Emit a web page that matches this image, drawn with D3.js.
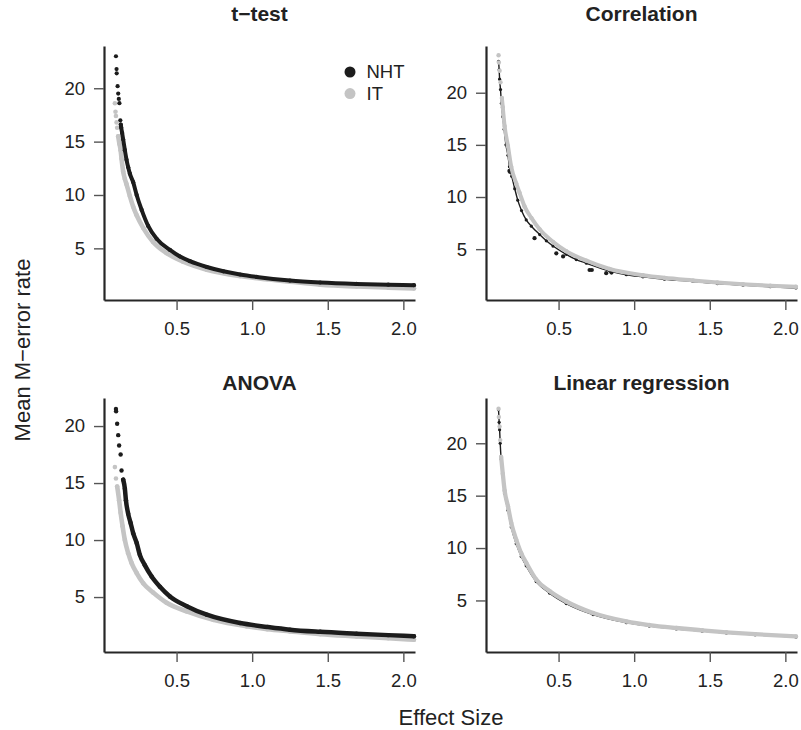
<!DOCTYPE html>
<html>
<head>
<meta charset="utf-8">
<script src="https://cdn.jsdelivr.net/npm/d3@7"></script>
<style>
  body { margin: 0; background: #fff; }
  svg { font-family: "Liberation Sans", Arial, Helvetica, sans-serif; }
</style>
</head>
<body>
<div id="chart"></div>
<script>
// Mean M-error rate against effect size: [effect size, M-error].
const ttestNHT = [
  [0.099, 23.0], [0.103, 21.8], [0.104, 21.4], [0.11, 20.2], [0.114, 19.5], [0.118, 19.0],
  [0.122, 18.6], [0.128, 17.0], [0.131, 16.6], [0.134, 16.3], [0.14, 15.8], [0.147, 15.2],
  [0.158, 14.2], [0.169, 13.3], [0.18, 12.6], [0.191, 12.0], [0.213, 11.2], [0.236, 10.0],
  [0.269, 8.6], [0.312, 7.1], [0.368, 5.9], [0.456, 4.85], [0.52, 4.25], [0.588, 3.8],
  [0.7, 3.25], [0.81, 2.85], [0.92, 2.55], [1.03, 2.32], [1.25, 1.98], [1.45, 1.8],
  [1.69, 1.67], [1.9, 1.6], [2.07, 1.55]
];
const ttestIT = [
  [0.092, 18.6], [0.096, 17.8], [0.099, 17.4], [0.103, 16.8], [0.107, 16.3], [0.114, 15.5],
  [0.122, 14.8], [0.13, 14.2], [0.136, 13.4], [0.147, 12.2], [0.158, 11.5], [0.169, 11.0],
  [0.191, 9.9], [0.213, 8.9], [0.236, 8.1], [0.28, 6.9], [0.345, 5.6], [0.434, 4.55],
  [0.544, 3.75], [0.7, 3.0], [0.92, 2.4], [1.1, 2.1], [1.25, 1.88], [1.45, 1.6],
  [1.69, 1.42], [1.9, 1.32], [2.07, 1.25]
];

const corrNHT = [
  [0.103, 23.0], [0.107, 22.2], [0.11, 21.3], [0.116, 20.3], [0.122, 19.0], [0.131, 17.7],
  [0.14, 16.5], [0.152, 15.0], [0.165, 14.0], [0.175, 12.9], [0.19, 12.0], [0.21, 10.8],
  [0.23, 9.7], [0.255, 8.7], [0.286, 7.8], [0.32, 7.2], [0.375, 6.4], [0.419, 5.8],
  [0.463, 5.3], [0.551, 4.5], [0.617, 4.0], [0.684, 3.65], [0.838, 2.9], [0.948, 2.55],
  [1.058, 2.35], [1.2, 2.12], [1.389, 1.9], [1.55, 1.7], [1.72, 1.55], [1.9, 1.4], [2.07, 1.28]
];
const corrNHTStray = [
  [0.175, 12.5], [0.18, 12.4], [0.341, 6.05], [0.485, 4.6], [0.53, 4.3],
  [0.705, 3.0], [0.72, 3.0], [0.815, 2.7], [0.85, 2.75]
];
const corrIT = [
  [0.103, 23.6], [0.105, 22.9], [0.11, 22.1], [0.116, 21.0], [0.125, 19.5], [0.131, 18.6],
  [0.143, 16.8], [0.165, 14.9], [0.187, 12.9], [0.22, 11.3], [0.242, 10.4], [0.275, 9.1],
  [0.32, 8.0], [0.375, 6.9], [0.463, 5.7], [0.551, 4.8], [0.684, 3.9], [0.838, 3.1],
  [1.058, 2.5], [1.2, 2.25], [1.389, 2.0], [1.55, 1.8], [1.72, 1.63], [1.9, 1.5], [2.07, 1.4]
];

const anovaNHT = [
  [0.099, 21.5], [0.1, 21.3], [0.107, 20.2], [0.114, 19.2], [0.12, 18.3], [0.13, 17.5],
  [0.136, 16.1], [0.147, 15.3], [0.158, 14.5], [0.165, 13.5], [0.18, 12.3], [0.196, 11.5],
  [0.213, 10.6], [0.236, 9.75], [0.257, 8.7], [0.29, 7.8], [0.335, 6.8], [0.39, 5.9],
  [0.456, 5.05], [0.567, 4.2], [0.7, 3.45], [0.92, 2.72], [1.1, 2.38], [1.25, 2.14],
  [1.45, 1.95], [1.69, 1.79], [1.9, 1.66], [2.07, 1.56]
];
const anovaIT = [
  [0.092, 16.4], [0.099, 15.4], [0.107, 14.7], [0.12, 13.5], [0.13, 12.4], [0.143, 11.2],
  [0.158, 10.0], [0.18, 8.85], [0.202, 8.0], [0.236, 7.1], [0.28, 6.2], [0.345, 5.4],
  [0.434, 4.5], [0.567, 3.74], [0.743, 3.0], [0.963, 2.43], [1.1, 2.18], [1.25, 1.99],
  [1.45, 1.75], [1.69, 1.55], [1.9, 1.38], [2.07, 1.26]
];

const lregNHT = [
  [0.103, 23.2], [0.107, 22.0], [0.11, 21.3], [0.114, 20.0], [0.12, 18.5], [0.131, 16.8],
  [0.143, 15.2], [0.165, 13.6], [0.187, 12.0], [0.22, 10.4], [0.253, 9.2], [0.286, 8.3],
  [0.352, 6.8], [0.44, 5.7], [0.551, 4.7], [0.728, 3.65], [0.948, 2.88], [1.1, 2.55],
  [1.279, 2.28], [1.45, 2.07], [1.61, 1.89], [1.8, 1.72], [2.07, 1.5]
];
const lregIT = [
  [0.103, 23.3], [0.105, 22.5], [0.11, 21.6], [0.114, 20.3], [0.12, 18.7], [0.131, 17.1],
  [0.143, 15.5], [0.165, 14.0], [0.187, 12.4], [0.22, 10.8], [0.253, 9.5], [0.286, 8.6],
  [0.352, 7.0], [0.44, 5.9], [0.551, 4.9], [0.728, 3.8], [0.948, 3.0], [1.1, 2.65],
  [1.279, 2.37], [1.45, 2.15], [1.61, 1.96], [1.8, 1.78], [2.07, 1.57]
];

const xTicks = [0.5, 1.0, 1.5, 2.0];
const yTicks = [5, 10, 15, 20];
const legendLabels = ["NHT", "IT"];

// Layout, in pixels.
const width = 801, height = 730;
const colX = [104, 486], rowY = [46, 398];
const pw = 311, ph = 254;
const titleY = [14, 383];
const xDomain = [0.02, 2.077];

const black = "#1c1c1c", grey = "#c4c4c4";

const panels = [
  {title: "t\u2212test", col: 0, row: 0, yDomain: [0.16, 23.96], legend: true,
   series: [
     {data: ttestIT, color: grey, r: 2.3, band: 4.6, bandFrom: 0.114},
     {data: ttestNHT, color: black, r: 2.1, band: 4, bandFrom: 0.131}
   ]},
  {title: "Correlation", col: 1, row: 0, yDomain: [0.125, 24.48],
   series: [
     {data: corrNHT, color: black, r: 1.6, band: 1.4, bandFrom: 0.1},
     {data: corrNHTStray, color: black, r: 2.1, band: 0},
     {data: corrIT, color: grey, r: 2.2, band: 4, bandFrom: 0.125}
   ]},
  {title: "ANOVA", col: 0, row: 1, yDomain: [0.18, 22.46],
   series: [
     {data: anovaIT, color: grey, r: 2.3, band: 4.6, bandFrom: 0.107},
     {data: anovaNHT, color: black, r: 2.2, band: 4.5, bandFrom: 0.147}
   ]},
  {title: "Linear regression", col: 1, row: 1, yDomain: [0.08, 24.32],
   series: [
     {data: lregNHT, color: black, r: 1.6, band: 1.4, bandFrom: 0.1},
     {data: lregIT, color: grey, r: 2.2, band: 4.3, bandFrom: 0.12}
   ]}
];

const svg = d3.select("#chart")
    .append("svg")
    .attr("width", width)
    .attr("height", height);

panels.forEach(p => {
    const g = svg.append("g")
        .attr("transform", `translate(${colX[p.col]},${rowY[p.row]})`);

    const x = d3.scaleLinear().domain(xDomain).range([0, pw]);
    const y = d3.scaleLinear().domain(p.yDomain).range([ph, 0]);

    // Axes (L-shaped box, as in R's bty="l").
    const xAxis = g.append("g")
        .attr("transform", `translate(0,${ph})`)
        .call(d3.axisBottom(x).tickValues(xTicks).tickFormat(d3.format(".1f"))
            .tickSize(10).tickSizeOuter(0).tickPadding(11.5));
    const yAxis = g.append("g")
        .call(d3.axisLeft(y).tickValues(yTicks).tickSize(10).tickSizeOuter(0).tickPadding(9));

    [xAxis, yAxis].forEach(a => {
        a.attr("font-size", 18.5).attr("font-family", null);
        a.select(".domain").attr("stroke", "#262626").attr("stroke-width", 2.2);
        a.selectAll(".tick line").attr("stroke", "#555").attr("stroke-width", 1.4);
        a.selectAll(".tick text").attr("fill", "#222");
    });

    g.append("text")
        .attr("x", pw / 2)
        .attr("y", titleY[p.row] - rowY[p.row])
        .attr("dy", "0.35em")
        .attr("text-anchor", "middle")
        .attr("font-size", 21)
        .attr("font-weight", "bold")
        .attr("fill", "#222")
        .text(p.title);

    const line = d3.line()
        .x(d => x(d[0]))
        .y(d => y(d[1]))
        .curve(d3.curveMonotoneX);

    p.series.forEach(s => {
        if (s.band > 0) {
            g.append("path")
                .datum(s.data.filter(d => d[0] >= s.bandFrom))
                .attr("fill", "none")
                .attr("stroke", s.color)
                .attr("stroke-width", s.band)
                .attr("stroke-linecap", "round")
                .attr("stroke-linejoin", "round")
                .attr("d", line);
        }
        g.append("g")
            .attr("fill", s.color)
            .selectAll("circle")
            .data(s.data)
            .join("circle")
            .attr("cx", d => x(d[0]))
            .attr("cy", d => y(d[1]))
            .attr("r", s.r);
    });

    if (p.legend) {
        const lg = g.append("g").attr("transform", "translate(246,26)");
        [black, grey].forEach((c, i) => {
            lg.append("circle")
                .attr("cx", 0)
                .attr("cy", i * 21.6)
                .attr("r", 5.5)
                .attr("fill", c);
            lg.append("text")
                .attr("x", 16.5)
                .attr("y", i * 21.6)
                .attr("dy", "0.35em")
                .attr("font-size", 18.5)
                .attr("fill", "#222")
                .text(legendLabels[i]);
        });
    }
});

// Shared axis titles.
svg.append("text")
    .attr("x", 451)
    .attr("y", 717)
    .attr("dy", "0.35em")
    .attr("text-anchor", "middle")
    .attr("font-size", 22)
    .attr("fill", "#222")
    .text("Effect Size");

svg.append("text")
    .attr("transform", "translate(22,350) rotate(-90)")
    .attr("dy", "0.35em")
    .attr("text-anchor", "middle")
    .attr("font-size", 22)
    .attr("fill", "#222")
    .text("Mean M\u2212error rate");
</script>
</body>
</html>
